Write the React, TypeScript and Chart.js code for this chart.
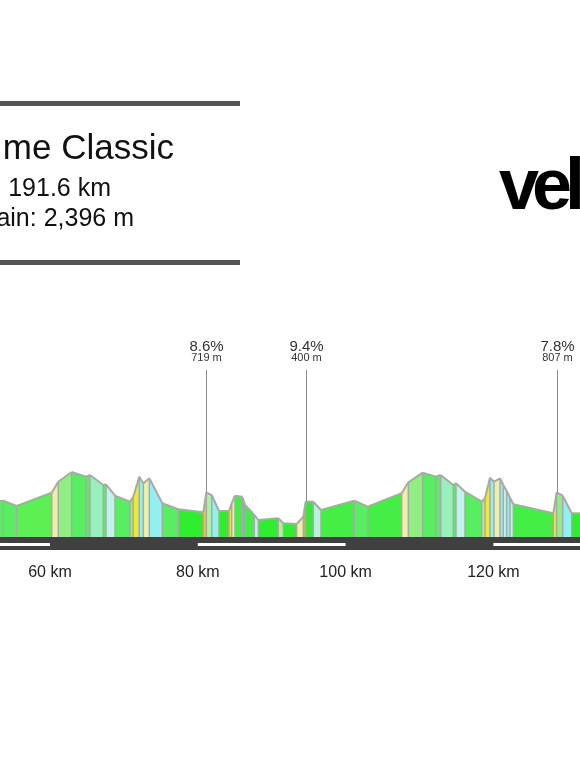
import React, { useEffect, useRef } from "react";
import { Chart, registerables } from "chart.js";

Chart.register(...registerables);

// ---- Data ----
const profileKm = [
  53.0, 53.68, 55.49, 60.23, 61.12, 62.93, 64.87, 65.41, 67.21, 67.58,
  68.8, 70.83, 71.27, 72.08, 72.63, 73.44, 75.2, 77.36, 80.74, 81.15,
  81.88, 82.87, 84.22, 84.59, 85.03, 86.02, 86.39, 87.65, 88.19, 90.89,
  91.57, 93.38, 94.28, 94.6, 95.63, 96.67, 101.18, 102.99, 107.59, 108.49,
  110.43, 112.19, 112.87, 114.57, 114.94, 116.16, 118.42, 118.86, 119.54, 120.08,
  120.9, 121.34, 121.8, 122.25, 122.7, 128.11, 128.55, 129.38, 130.6, 132.5,
];
const profileElev = [
  178, 181.5, 155, 221.5, 276.5, 325, 301.5, 310, 260, 263.5,
  206.5, 176.5, 201.5, 301.5, 268.5, 293.5, 168.5, 138.5, 123.5, 221.5,
  210, 130, 130, 168.5, 206.5, 201.5, 160, 110, 85, 93.5,
  68.5, 65, 101.5, 176.5, 176.5, 135, 181.5, 151.5, 218.5, 273.5,
  321.5, 301.5, 310, 260, 268.5, 226.5, 176.5, 193.5, 296.5, 276.5,
  293.5, 260, 230, 196.5, 163.5, 118.5, 223.5, 206.5, 118.5, 118.5,
];
const BRIGHT = "#2eee2e";
const GREEN = "#45ee45";
const G55 = "#58ee62";
const G5C = "#5cf055";
const LGREEN = "#90ee82";
const PALEGR = "#b0f0a0";
const MINT = "#98f0bc";
const PALEY = "#eef0a8";
const YELLOW = "#f2e832";
const ORANGE = "#f2c832";
const PALEC = "#c0f2ee";
const CYAN = "#92f0f0";
const BLUE = "#42c8ee";
const TAN = "#c8b068";
const segmentColors = [
  G55, G55, G5C, PALEY, LGREEN, G55, G55, MINT, G55, PALEC,
  G55, LGREEN, YELLOW, CYAN, PALEY, CYAN, G55, BRIGHT, ORANGE, PALEGR,
  CYAN, BRIGHT, YELLOW, PALEY, GREEN, BLUE, GREEN, PALEC, BRIGHT, PALEGR,
  BRIGHT, PALEY, TAN, BRIGHT, "#bbf0dd", GREEN, G55, GREEN, PALEY, LGREEN,
  G55, G55, MINT, G55, PALEC, G55, PALEGR, YELLOW, CYAN, PALEY,
  CYAN, PALEC, CYAN, PALEC, GREEN, YELLOW, LGREEN, CYAN, BRIGHT,
];
const climbKm = [81.15, 94.6, 128.55];
const climbGrade = ["8.6%", "9.4%", "7.8%"];
const climbLength = ["719 m", "400 m", "807 m"];
const stripeStartKm = [40, 80, 120];
const stripeLengthKm = 20;
const tickStepKm = 20;
const titleText = "me Classic";
const distanceText = "191.6 km";
const gainText = "ain: 2,396 m";
const logoText = "vel";
const xMinKm = 53.234;
const xMaxKm = 131.72;

const FONT = '"Liberation Sans", Arial, Helvetica, sans-serif';

function elevAt(km: number): number {
  for (let i = 0; i < profileKm.length - 1; i++) {
    if (km >= profileKm[i] && km <= profileKm[i + 1]) {
      const t = (km - profileKm[i]) / (profileKm[i + 1] - profileKm[i]);
      return profileElev[i] + t * (profileElev[i + 1] - profileElev[i]);
    }
  }
  return profileElev[profileElev.length - 1];
}

const decorPlugin = {
  id: "decor",
  afterDatasetsDraw(chart: any) {
    const { ctx, chartArea, scales } = chart;
    const x = scales.x;
    const y = scales.y;
    const base = y.getPixelForValue(0);
    ctx.save();
    // section separators
    ctx.strokeStyle = "#a9a9a9";
    ctx.lineWidth = 1.5;
    for (let i = 1; i < profileKm.length - 1; i++) {
      const px = x.getPixelForValue(profileKm[i]);
      if (px < chartArea.left || px > chartArea.right) continue;
      ctx.beginPath();
      ctx.moveTo(px, y.getPixelForValue(profileElev[i]));
      ctx.lineTo(px, base);
      ctx.stroke();
    }
    // distance bar
    ctx.fillStyle = "#404040";
    ctx.fillRect(chartArea.left, base, chartArea.right - chartArea.left, 13);
    ctx.fillStyle = "#ffffff";
    for (const s of stripeStartKm) {
      const a = Math.max(x.getPixelForValue(s), chartArea.left);
      const b = Math.min(x.getPixelForValue(s + stripeLengthKm), chartArea.right);
      if (b > a) ctx.fillRect(a, base + 6, b - a, 3);
    }
    // climbs
    for (let i = 0; i < climbKm.length; i++) {
      const px = Math.round(x.getPixelForValue(climbKm[i])) + 0.5;
      const py = y.getPixelForValue(elevAt(climbKm[i]));
      ctx.strokeStyle = "#8c8c8c";
      ctx.lineWidth = 1;
      ctx.beginPath();
      ctx.moveTo(px, 370);
      ctx.lineTo(px, py);
      ctx.stroke();
      ctx.fillStyle = "#333333";
      ctx.textAlign = "center";
      ctx.textBaseline = "alphabetic";
      ctx.font = `15px ${FONT}`;
      ctx.fillText(climbGrade[i], px, 351);
      ctx.font = `11px ${FONT}`;
      ctx.fillText(climbLength[i], px, 361);
    }
    ctx.restore();
  },
  afterDraw(chart: any) {
    const { ctx } = chart;
    ctx.save();
    ctx.fillStyle = "#555555";
    ctx.fillRect(0, 101, 240, 5);
    ctx.fillRect(0, 260, 240, 5);
    ctx.fillStyle = "#111111";
    ctx.textBaseline = "alphabetic";
    ctx.textAlign = "right";
    ctx.font = `35px ${FONT}`;
    ctx.fillText(titleText, 174, 159);
    ctx.font = `25px ${FONT}`;
    ctx.fillText(distanceText, 111, 196);
    ctx.fillText(gainText, 134, 226);
    ctx.textAlign = "left";
    ctx.fillStyle = "#000000";
    ctx.font = `bold 72px ${FONT}`;
    try {
      (ctx as any).letterSpacing = "-7px";
    } catch (e) {}
    ctx.fillText(logoText, 499, 209);
    ctx.restore();
  },
};

export default function App() {
  const canvasRef = useRef<HTMLCanvasElement | null>(null);

  useEffect(() => {
    if (!canvasRef.current) return;
    const data = profileKm.map((km, i) => ({ x: km, y: profileElev[i] }));
    const chart = new Chart(canvasRef.current, {
      type: "line",
      data: {
        datasets: [
          {
            data,
            borderColor: "#a9a9a9",
            borderWidth: 2,
            pointRadius: 0,
            tension: 0,
            fill: "origin",
            backgroundColor: BRIGHT,
            segment: {
              backgroundColor: (c: any) => segmentColors[c.p0DataIndex],
            },
          },
        ],
      },
      options: {
        animation: false,
        responsive: true,
        maintainAspectRatio: false,
        layout: { padding: { top: 337, bottom: 164.8, left: 0, right: 0 } },
        plugins: {
          legend: { display: false },
          tooltip: { enabled: false },
          title: { display: false },
        },
        scales: {
          x: {
            type: "linear",
            min: xMinKm,
            max: xMaxKm,
            grid: { display: false, drawTicks: false },
            border: { display: false },
            ticks: {
              stepSize: tickStepKm,
              includeBounds: false,
              autoSkip: false,
              maxRotation: 0,
              padding: 26,
              color: "#222222",
              font: { family: FONT, size: 16 },
              callback: (v: any) => `${v} km`,
            },
          },
          y: {
            display: false,
            min: 0,
            max: 1000,
          },
        },
      },
      plugins: [decorPlugin],
    });
    return () => chart.destroy();
  }, []);

  return (
    <div
      style={{
        position: "fixed",
        left: 0,
        top: 0,
        width: 580,
        height: 773,
        background: "#ffffff",
      }}
    >
      <canvas ref={canvasRef} />
    </div>
  );
}
